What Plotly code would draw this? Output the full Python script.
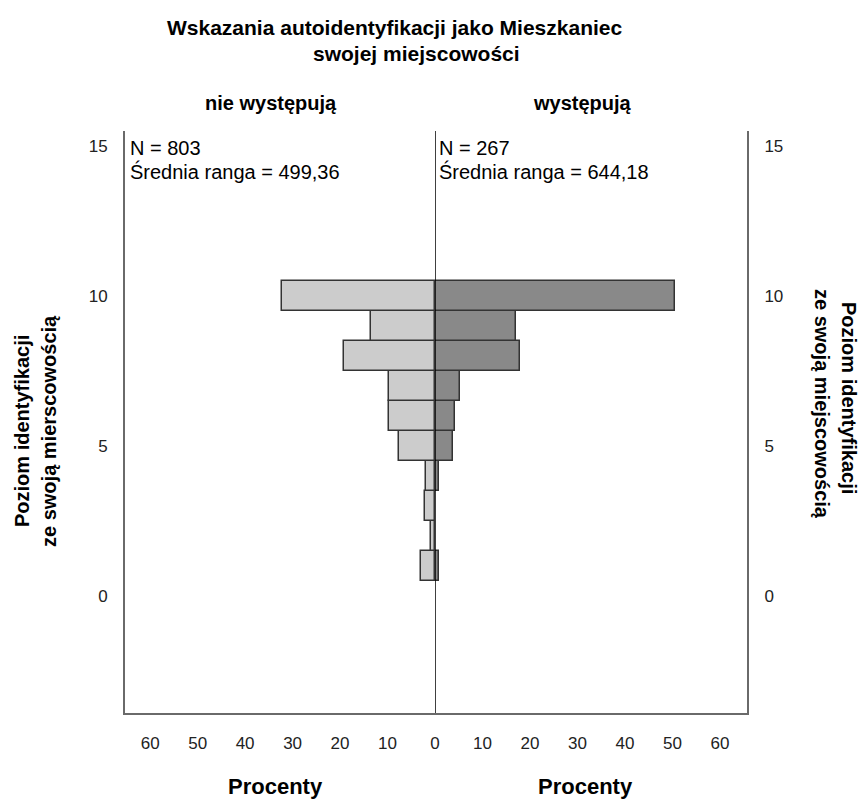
import plotly.graph_objects as go

# ---- data ----
levels = [0, 1, 2, 3, 4, 5, 6, 7, 8, 9, 10]
pct_nie = [0, 2.9, 0.9, 2.1, 2.0, 7.6, 9.7, 9.7, 19.2, 13.4, 32.3]
pct_tak = [0, 0.9, 0, 0, 0.9, 3.8, 4.2, 5.3, 18.0, 17.0, 50.5]
group_labels = ["nie występują", "występują"]
n_lines = [["N = 803", "Średnia ranga = 499,36"], ["N = 267", "Średnia ranga = 644,18"]]
x_ticks_left = [0, 10, 20, 30, 40, 50, 60]
x_ticks_right = [10, 20, 30, 40, 50, 60]
y_ticks = [0, 5, 10, 15]
title_lines = ["Wskazania autoidentyfikacji jako Mieszkaniec", "swojej miejscowości"]
x_title = "Procenty"
y_title_left = ["Poziom identyfikacji", "ze swoją mierscowością"]
y_title_right = ["Poziom identyfikacji", "ze swoją miejscowością"]

FONT = "Liberation Sans, Arial, sans-serif"
W, H = 861, 800
# plot area in screen pixels
SX0, SX1, SY0, SY1 = 125, 747, 131, 713
ML, MT, MR, MB = SX0, SY0, W - SX1, H - SY1
PW = SX1 - SX0
PH = SY1 - SY0
split = (435 - SX0) / PW
frame = "#6a6a6a"


def outline_widths(vals):
    return [1.5 if v > 0 else 0 for v in vals]


fig = go.Figure()
fig.add_trace(go.Bar(
    y=levels, x=pct_nie, orientation="h", width=1,
    marker=dict(color="#cccccc", line=dict(color="#333333", width=outline_widths(pct_nie))),
    xaxis="x", yaxis="y", showlegend=False, hoverinfo="x+y"))
fig.add_trace(go.Bar(
    y=levels, x=pct_tak, orientation="h", width=1,
    marker=dict(color="#898989", line=dict(color="#333333", width=outline_widths(pct_tak))),
    xaxis="x2", yaxis="y2", showlegend=False, hoverinfo="x+y"))

tickfont = dict(family=FONT, size=17, color="#222222")
yr = [-3.9, 15.5]

fig.update_layout(
    width=W, height=H,
    margin=dict(l=ML, r=MR, t=MT, b=MB, autoexpand=False),
    plot_bgcolor="white", paper_bgcolor="white",
    font=dict(family=FONT, color="#000000"),
    bargap=0,
    xaxis=dict(domain=[0, split], range=[65.3, 0], tickvals=x_ticks_left,
               showgrid=False, zeroline=False, showline=True, linecolor=frame,
               linewidth=2, ticks="", tickfont=tickfont, ticklabelstandoff=14,
               anchor="y"),
    xaxis2=dict(domain=[split, 1], range=[0, 65.7], tickvals=x_ticks_right,
                showgrid=False, zeroline=False, showline=True, linecolor=frame,
                linewidth=2, ticks="", tickfont=tickfont, ticklabelstandoff=14,
                anchor="y2"),
    yaxis=dict(range=yr, tickvals=y_ticks, showgrid=False, zeroline=False,
               showline=True, linecolor=frame, linewidth=2, ticks="",
               tickfont=tickfont, ticklabelstandoff=12, anchor="x", side="left"),
    yaxis2=dict(range=yr, tickvals=y_ticks, showgrid=False, zeroline=False,
                showline=True, linecolor=frame, linewidth=2, ticks="",
                tickfont=tickfont, ticklabelstandoff=12, anchor="x2", side="right"),
)

def px_x(px):
    return (px - SX0) / PW

def px_y(py):
    return (SY1 - py) / PH

def txt(text, sx, sy, size, bold=False, xanchor="center", angle=0):
    return dict(text=("<b>" + text + "</b>") if bold else text,
                x=px_x(sx), y=px_y(sy), xref="paper", yref="paper",
                xanchor=xanchor, yanchor="middle", showarrow=False,
                textangle=angle, align="center",
                font=dict(family=FONT, size=size, color="#000000"))

ann = []
ann.append(txt(title_lines[0], 394, 28, 21, bold=True))
ann.append(txt(title_lines[1], 416, 53, 21, bold=True))
ann.append(txt(group_labels[0], 271, 103, 20, bold=True))
ann.append(txt(group_labels[1], 582, 103, 20, bold=True))
ann.append(txt(n_lines[0][0], 128, 148, 20, xanchor="left"))
ann.append(txt(n_lines[0][1], 128, 171, 20, xanchor="left"))
ann.append(txt(n_lines[1][0], 437, 148, 20, xanchor="left"))
ann.append(txt(n_lines[1][1], 437, 171, 20, xanchor="left"))
ann.append(txt(x_title, 275, 786, 22, bold=True))
ann.append(txt(x_title, 585, 786, 22, bold=True))
ann.append(txt(y_title_left[0], 22, 431, 20, bold=True, angle=-90))
ann.append(txt(y_title_left[1], 49, 431, 20, bold=True, angle=-90))
ann.append(txt(y_title_right[0], 849, 398, 20, bold=True, angle=90))
ann.append(txt(y_title_right[1], 822, 404, 20, bold=True, angle=90))
fig.update_layout(annotations=ann)

# center line
fig.add_shape(type="line", xref="x2", yref="paper", x0=0, x1=0, y0=0, y1=1,
              line=dict(color="black", width=1.5), layer="above")

fig.write_html("out.html",
               config={"displayModeBar": False},
               post_script="document.body.style.margin='0px';document.body.style.overflow='hidden';")
